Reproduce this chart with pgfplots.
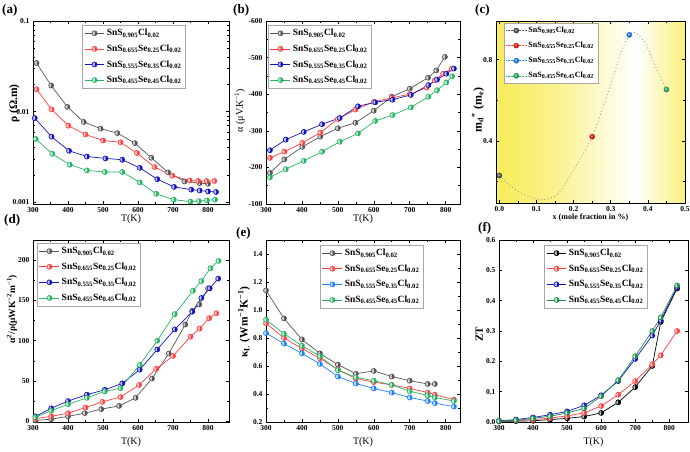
\documentclass[border=0pt]{standalone}
\usepackage{fontspec}
\setmainfont{Liberation Serif}
\usepackage{pgfplots}
\pgfplotsset{compat=1.18}

\definecolor{cgray}{RGB}{85,85,85}
\definecolor{cred}{RGB}{255,64,64}
\definecolor{cblue}{RGB}{20,20,190}
\definecolor{cgreen}{RGB}{40,180,100}
\definecolor{cazure}{RGB}{30,130,255}
\definecolor{cyel}{RGB}{248,236,88}

\pgfdeclarehorizontalshading{cbg}{100bp}{color(0bp)=(cyel); color(25bp)=(cyel); color(40bp)=(cyel!70!white); color(62bp)=(white); color(75bp)=(cyel!80!white); color(100bp)=(cyel!80!white)}

\newcommand{\LA}{SnS\textsubscript{0.905}Cl\textsubscript{0.02}}
\newcommand{\LB}{SnS\textsubscript{0.655}Se\textsubscript{0.25}Cl\textsubscript{0.02}}
\newcommand{\LC}{SnS\textsubscript{0.555}Se\textsubscript{0.35}Cl\textsubscript{0.02}}
\newcommand{\LD}{SnS\textsubscript{0.455}Se\textsubscript{0.45}Cl\textsubscript{0.02}}

\pgfplotsset{
  panel/.style={
    scale only axis, anchor=north west,
    axis line style={line width=0.6pt},
    tick align=inside, major tick length=3pt, minor tick length=1.8pt,
    tick style={line width=0.5pt, black},
    ticklabel style={font=\fontsize{7.5}{8}\selectfont\bfseries},
    /pgf/number format/assume math mode=true,
    label style={font=\fontsize{10.5}{12}\selectfont\bfseries},
    every axis y label/.style={rotate=90, anchor=center},
    every axis x label/.style={anchor=center},
    legend style={font=\fontsize{9.5}{11}\selectfont\bfseries, draw=gray!70,
      line width=0.4pt, anchor=north west, inner sep=2pt, row sep=3.5pt},
    legend cell align=left,
    legend image code/.code={\draw[mark repeat=2,mark phase=2] plot coordinates {(0cm,0cm) (0.35cm,0cm) (0.7cm,0cm)};},
    xlabel={T(K)}, xtick={300,400,...,800}, minor x tick num=1,
  },
  ser/.style={color=#1, line width=0.7pt, mark=halfcircle*, mark size=2.5pt,
    mark options={rotate=-90, fill=#1, mark color=#1!25!white, solid}},
}

\begin{document}
\begin{tikzpicture}
\useasboundingbox (0,0) rectangle (690pt,-451pt);

% ---------------- (a) resistivity ----------------
\begin{axis}[panel, at={(33pt,-21pt)}, width=196pt, height=183pt,
  ymode=log, xmin=300, xmax=860, ymin=0.000958, ymax=0.1,
  ytick={0.001,0.01,0.1}, yticklabels={0.001,0.01,0.1},
  ylabel={ρ (Ω.m)}, ylabel style={font=\fontsize{11.5}{12}\selectfont\bfseries, at={(axis description cs:-0.095,0.55)}},
  xlabel style={at={(axis description cs:0.5,-0.08)}},
  legend style={at={(0.25,0.978)}}]
\addplot[ser=cgray] coordinates {(310,0.0344) (352,0.0194) (398,0.0113) (445,0.0077) (493,0.0065) (541,0.0058) (591,0.0045) (638,0.0031) (686,0.00214) (733,0.0017) (776,0.00163) (800,0.0016)};
\addplot[ser=cred] coordinates {(310,0.0177) (353,0.0106) (401,0.0070) (450,0.0056) (500,0.0048) (550,0.0046) (597,0.0035) (647,0.00245) (698,0.00197) (748,0.00174) (772,0.00172) (796,0.00172) (818,0.00172)};
\addplot[ser=cblue] coordinates {(305,0.0085) (353,0.0053) (403,0.0037) (454,0.0032) (507,0.00305) (555,0.00295) (605,0.0024) (655,0.0018) (703,0.00148) (752,0.00138) (776,0.00135) (800,0.00132) (823,0.0013)};
\addplot[ser=cgreen] coordinates {(308,0.0050) (355,0.00343) (405,0.0026) (454,0.00225) (505,0.00216) (555,0.00216) (605,0.00166) (652,0.00124) (702,0.00107) (750,0.00102) (774,0.00103) (797,0.00105) (820,0.00107)};
\legend{\LA,\LB,\LC,\LD}
\end{axis}

% ---------------- (b) Seebeck ----------------
\begin{axis}[panel, at={(266pt,-21pt)}, width=194pt, height=183pt,
  xmin=300, xmax=840, y dir=reverse, ymin=-600, ymax=-100,
  ytick={-600,-500,-400,-300,-200,-100}, minor y tick num=1,
  ylabel={α (μV.K\textsuperscript{−1})}, ylabel style={at={(axis description cs:-0.135,0.51)}},
  xlabel style={at={(axis description cs:0.5,-0.08)}},
  legend style={at={(0.01,0.978)}}]
\addplot[ser=cgray] coordinates {(311,-185) (351,-222) (401,-256) (451,-284) (500,-307) (549,-322) (600,-355) (650,-393) (700,-415) (751,-445) (774,-465) (798,-502)};
\addplot[ser=cred] coordinates {(311,-226) (351,-243) (401,-267) (451,-295) (500,-332) (549,-358) (600,-379) (650,-390) (700,-400) (747,-418) (770,-438) (793,-456) (817,-470)};
\addplot[ser=cblue] coordinates {(311,-247) (355,-276) (405,-297) (456,-318) (505,-335) (556,-367) (604,-378) (652,-385) (703,-398) (752,-425) (776,-440) (802,-456) (823,-470)};
\addplot[ser=cgreen] coordinates {(311,-173) (355,-195) (405,-218) (456,-243) (505,-270) (556,-293) (604,-327) (652,-343) (703,-364) (752,-393) (776,-411) (802,-432) (818,-449)};
\legend{\LA,\LB,\LC,\LD}
\end{axis}

% ---------------- (c) effective mass ----------------
\begin{axis}[panel, at={(496pt,-21pt)}, width=189pt, height=182pt,
  axis background/.style={shade, shading=cbg},
  xmin=-0.009, xmax=0.5, ymin=0.095, ymax=0.99,
  xtick={0,0.1,0.2,0.3,0.4,0.5}, minor x tick num=1,
  ytick={0.4,0.8}, minor ytick={0.2,0.6},
  xticklabel style={/pgf/number format/.cd, fixed, fixed zerofill, precision=1},
  yticklabel style={/pgf/number format/.cd, fixed, fixed zerofill, precision=1},
  xlabel={x (mole fraction in \%)},
  xlabel style={font=\fontsize{8}{9}\selectfont\bfseries, at={(axis description cs:0.5,-0.08)}},
  ylabel={m\textsubscript{d}\textsuperscript{*} (m\textsubscript{e})},
  ylabel style={font=\fontsize{12}{13}\selectfont\bfseries, at={(axis description cs:-0.095,0.51)}},
  legend style={at={(0.042,0.99)}, font=\fontsize{8}{9}\selectfont\bfseries, row sep=4pt}]
\addplot[color=gray!80, line width=0.9pt, dash pattern=on 0.9pt off 2.6pt, smooth, forget plot]
  coordinates {(0,0.23) (0.05,0.152) (0.115,0.111) (0.16,0.144) (0.205,0.274) (0.25,0.421) (0.295,0.65) (0.33,0.846) (0.353,0.927) (0.367,0.932) (0.394,0.878) (0.421,0.764) (0.45,0.653)};
\addplot[color=cgray, densely dotted, mark=ball, mark size=2.6pt, mark options={ball color=cgray, solid}] coordinates {(0,0.23)};
\addplot[color=cred, densely dotted, mark=ball, mark size=2.6pt, mark options={ball color=red, solid}] coordinates {(0.25,0.421)};
\addplot[color=cazure, densely dotted, mark=ball, mark size=2.6pt, mark options={ball color=cazure, solid}] coordinates {(0.35,0.922)};
\addplot[color=cgreen, densely dotted, mark=ball, mark size=2.6pt, mark options={ball color=cgreen, solid}] coordinates {(0.45,0.653)};
\legend{\LA,\LB,\LC,\LD}
\end{axis}

% ---------------- (d) power factor ----------------
\begin{axis}[panel, at={(33pt,-240pt)}, width=196pt, height=182pt,
  xmin=300, xmax=860, ymin=-1, ymax=225,
  ytick={0,50,100,150,200}, minor y tick num=1,
  ylabel={α\textsuperscript{2}/ρ(μWK\textsuperscript{−2}m\textsuperscript{−1})},
  ylabel style={font=\fontsize{9.5}{10}\selectfont\bfseries, at={(axis description cs:-0.107,0.62)}},
  xlabel style={at={(axis description cs:0.5,-0.11)}},
  legend style={at={(0.02,0.984)}}]
\addplot[ser=cgray] coordinates {(307,1) (352,2.5) (400,6) (448,10) (495,15) (546,19) (593,29) (640,53) (688,84) (735,120) (755,137) (775,145) (800,165)};
\addplot[ser=cred] coordinates {(307,3.3) (352,6) (400,10) (450,17) (498,24) (550,30) (603,45) (652,65) (700,81) (750,105) (776,115) (803,128) (824,134)};
\addplot[ser=cblue] coordinates {(307,6) (352,16) (400,25) (454,33) (505,39) (555,47) (605,64) (655,89) (705,114) (755,136) (781,153) (805,165) (829,177)};
\addplot[ser=cgreen] coordinates {(307,5) (352,13) (400,21) (454,29) (505,37) (550,41) (605,70) (655,100) (705,133) (757,162) (781,174) (807,190) (830,199)};
\legend{\LA,\LB,\LC,\LD}
\end{axis}

% ---------------- (e) lattice thermal conductivity ----------------
\begin{axis}[panel, at={(266pt,-240pt)}, width=194pt, height=182pt,
  xmin=300, xmax=840, ymin=0.2, ymax=1.5,
  ytick={0.2,0.4,0.6,0.8,1.0,1.2,1.4}, minor y tick num=1,
  yticklabel style={/pgf/number format/.cd, fixed, fixed zerofill, precision=1},
  ylabel={κ\textsubscript{L} (Wm\textsuperscript{−1}K\textsuperscript{−1})},
  ylabel style={font=\fontsize{11.5}{12}\selectfont\bfseries, at={(axis description cs:-0.113,0.55)}},
  xlabel style={at={(axis description cs:0.5,-0.11)}},
  legend style={at={(0.278,0.973)}}]
\addplot[ser=cgray] coordinates {(300,1.14) (350,0.94) (400,0.79) (450,0.69) (500,0.61) (550,0.545) (600,0.565) (650,0.525) (700,0.495) (750,0.472) (770,0.472)};
\addplot[ser=cred] coordinates {(300,0.905) (350,0.80) (400,0.725) (450,0.655) (500,0.575) (550,0.51) (600,0.485) (650,0.465) (700,0.44) (750,0.41) (770,0.395) (823,0.36)};
\addplot[ser=cazure] coordinates {(300,0.835) (350,0.76) (400,0.69) (450,0.615) (500,0.525) (550,0.475) (600,0.44) (650,0.41) (700,0.375) (750,0.35) (770,0.335) (823,0.31)};
\addplot[ser=cgreen] coordinates {(300,0.93) (350,0.83) (400,0.745) (450,0.67) (500,0.57) (550,0.52) (600,0.495) (650,0.465) (700,0.42) (750,0.39) (770,0.375) (823,0.35)};
\legend{\LA,\LB,\LC,\LD}
\end{axis}

% ---------------- (f) figure of merit ----------------
\begin{axis}[panel, at={(499pt,-240pt)}, width=189pt, height=182pt,
  xmin=300, xmax=855, ymin=0, ymax=0.6,
  ytick={0,0.1,0.2,0.3,0.4,0.5,0.6},
  yticklabel style={/pgf/number format/.cd, fixed, fixed zerofill, precision=1},
  ylabel={ZT}, ylabel style={font=\fontsize{11}{12}\selectfont\bfseries, at={(axis description cs:-0.105,0.48)}},
  xlabel style={at={(axis description cs:0.5,-0.11)}},
  legend style={at={(0.238,0.973)}}]
\addplot[ser=black] coordinates {(300,0.002) (350,0.003) (400,0.004) (450,0.008) (500,0.012) (550,0.018) (600,0.03) (650,0.065) (700,0.115) (750,0.185) (775,0.33) (823,0.44)};
\addplot[ser=cred] coordinates {(300,0.003) (350,0.005) (400,0.008) (450,0.013) (500,0.02) (550,0.03) (600,0.053) (650,0.09) (700,0.135) (750,0.19) (775,0.22) (823,0.30)};
\addplot[ser=cblue] coordinates {(300,0.004) (350,0.008) (400,0.015) (450,0.024) (500,0.035) (550,0.055) (600,0.088) (650,0.135) (700,0.208) (750,0.285) (775,0.335) (823,0.445)};
\addplot[ser=cgreen!80!black] coordinates {(300,0.003) (350,0.006) (400,0.012) (450,0.019) (500,0.03) (550,0.045) (600,0.085) (650,0.138) (700,0.217) (750,0.30) (775,0.345) (823,0.45)};
\legend{\LA,\LB,\LC,\LD}
\end{axis}

% panel letters
\begin{scope}[every node/.style={anchor=north west, inner sep=0pt, font=\fontsize{13}{14}\selectfont\bfseries}]
\node at (2pt,-4pt) {(a)};
\node at (233pt,-4pt) {(b)};
\node at (475pt,-4pt) {(c)};
\node at (4pt,-214pt) {(d)};
\node at (236pt,-227pt) {(e)};
\node at (478pt,-222pt) {(f)};
\end{scope}
\end{tikzpicture}
\end{document}
